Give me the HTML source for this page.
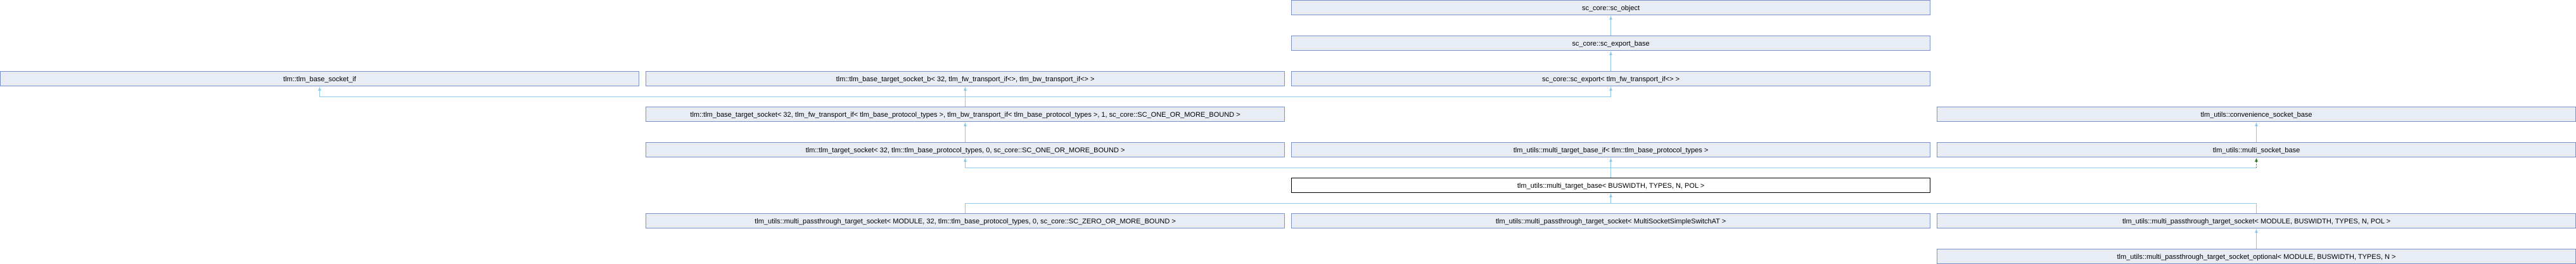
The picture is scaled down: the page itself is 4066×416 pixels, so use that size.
<!DOCTYPE html>
<html><head><meta charset="utf-8"><style>
html,body{margin:0;padding:0;background:#fff;}
svg{display:block;}
text{font-family:"Liberation Sans",sans-serif;font-size:11px;fill:#000;text-anchor:middle;}
.b{fill:#e8ecf5;stroke:#7b8fc8;stroke-width:1;}
.k{fill:#fff;stroke:#000;stroke-width:1;}
.l{stroke:#8ecbea;stroke-width:1;fill:none;}
.a{fill:#8ecbea;}
</style></head><body>
<svg width="4066" height="416" viewBox="0 0 4066 416" xmlns="http://www.w3.org/2000/svg">
<path class="l" d="M2542.5 56V25 M2542.5 112V81 M504.5 137V152.5H2542.5V137 M1523.5 168V137 M1523.5 224V193 M3561.5 224V193 M1523.5 249V264.5H3561.5 M2542.5 280V249 M1523.5 336V320.5H3561.5V336 M2542.5 320V305 M3561.5 392V361"/>
<path d="M3561.5 264.5V249" style="stroke:#2a7a2a;stroke-dasharray:2,2;fill:none"/>
<g>
<polygon class="a" points="2542.5,25 2540,31 2545,31"/>
<polygon class="a" points="2542.5,81 2540,87 2545,87"/>
<polygon class="a" points="504.5,137 502,143 507,143"/>
<polygon class="a" points="1523.5,137 1521,143 1526,143"/>
<polygon class="a" points="2542.5,137 2540,143 2545,143"/>
<polygon class="a" points="1523.5,193 1521,199 1526,199"/>
<polygon class="a" points="3561.5,193 3559,199 3564,199"/>
<polygon points="3561.5,249 3559,255 3564,255" fill="#2a7a2a"/>
<polygon class="a" points="2542.5,249 2540,255 2545,255"/>
<polygon class="a" points="1523.5,249 1521,255 1526,255"/>
<polygon class="a" points="2542.5,305 2540,311 2545,311"/>
<polygon class="a" points="3561.5,361 3559,367 3564,367"/>
</g>
<rect class="b" x="2038.5" y="0.5" width="1008" height="23"/><text x="2542.5" y="16">sc_core::sc_object</text>
<rect class="b" x="2038.5" y="56.5" width="1008" height="23"/><text x="2542.5" y="72">sc_core::sc_export_base</text>
<rect class="b" x="0.5" y="112.5" width="1008" height="23"/><text x="504.5" y="128">tlm::tlm_base_socket_if</text>
<rect class="b" x="1019.5" y="112.5" width="1008" height="23"/><text x="1523.5" y="128">tlm::tlm_base_target_socket_b&lt; 32, tlm_fw_transport_if&lt;&gt;, tlm_bw_transport_if&lt;&gt; &gt;</text>
<rect class="b" x="2038.5" y="112.5" width="1008" height="23"/><text x="2542.5" y="128">sc_core::sc_export&lt; tlm_fw_transport_if&lt;&gt; &gt;</text>
<rect class="b" x="1019.5" y="168.5" width="1008" height="23"/><text x="1523.5" y="184">tlm::tlm_base_target_socket&lt; 32, tlm_fw_transport_if&lt; tlm_base_protocol_types &gt;, tlm_bw_transport_if&lt; tlm_base_protocol_types &gt;, 1, sc_core::SC_ONE_OR_MORE_BOUND &gt;</text>
<rect class="b" x="3057.5" y="168.5" width="1008" height="23"/><text x="3561.5" y="184">tlm_utils::convenience_socket_base</text>
<rect class="b" x="1019.5" y="224.5" width="1008" height="23"/><text x="1523.5" y="240">tlm::tlm_target_socket&lt; 32, tlm::tlm_base_protocol_types, 0, sc_core::SC_ONE_OR_MORE_BOUND &gt;</text>
<rect class="b" x="2038.5" y="224.5" width="1008" height="23"/><text x="2542.5" y="240">tlm_utils::multi_target_base_if&lt; tlm::tlm_base_protocol_types &gt;</text>
<rect class="b" x="3057.5" y="224.5" width="1008" height="23"/><text x="3561.5" y="240">tlm_utils::multi_socket_base</text>
<rect class="k" x="2038.5" y="280.5" width="1008" height="23"/><text x="2542.5" y="296">tlm_utils::multi_target_base&lt; BUSWIDTH, TYPES, N, POL &gt;</text>
<rect class="b" x="1019.5" y="336.5" width="1008" height="23"/><text x="1523.5" y="352">tlm_utils::multi_passthrough_target_socket&lt; MODULE, 32, tlm::tlm_base_protocol_types, 0, sc_core::SC_ZERO_OR_MORE_BOUND &gt;</text>
<rect class="b" x="2038.5" y="336.5" width="1008" height="23"/><text x="2542.5" y="352">tlm_utils::multi_passthrough_target_socket&lt; MultiSocketSimpleSwitchAT &gt;</text>
<rect class="b" x="3057.5" y="336.5" width="1008" height="23"/><text x="3561.5" y="352">tlm_utils::multi_passthrough_target_socket&lt; MODULE, BUSWIDTH, TYPES, N, POL &gt;</text>
<rect class="b" x="3057.5" y="392.5" width="1008" height="23"/><text x="3561.5" y="408">tlm_utils::multi_passthrough_target_socket_optional&lt; MODULE, BUSWIDTH, TYPES, N &gt;</text>
</svg>
</body></html>
